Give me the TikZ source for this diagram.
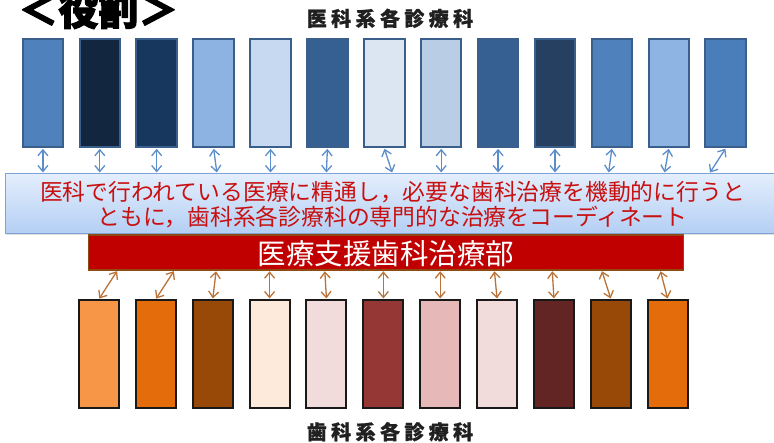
\documentclass[tikz,border=0pt]{standalone}
\usepackage{fontspec}
\newfontfamily\cjk{Noto Sans CJK JP}
\newfontfamily\cjkheavy[FakeBold=2.5]{Noto Sans CJK JP}
\newfontfamily\cjklabel[FakeBold=1,LetterSpace=22]{Noto Sans CJK JP}
\usetikzlibrary{arrows.meta,shadows,calc}
\definecolor{tc1}{HTML}{4F81BD}
\definecolor{tc2}{HTML}{12263F}
\definecolor{tc3}{HTML}{17375E}
\definecolor{tc4}{HTML}{8DB3E2}
\definecolor{tc5}{HTML}{C6D9F1}
\definecolor{tc6}{HTML}{366092}
\definecolor{tc7}{HTML}{DCE6F2}
\definecolor{tc8}{HTML}{B9CDE5}
\definecolor{tc9}{HTML}{376092}
\definecolor{tc10}{HTML}{254061}
\definecolor{tc11}{HTML}{4F81BD}
\definecolor{tc12}{HTML}{8EB4E3}
\definecolor{tc13}{HTML}{4A7EBB}
\definecolor{bc1}{HTML}{F79646}
\definecolor{bc2}{HTML}{E46C0A}
\definecolor{bc3}{HTML}{984807}
\definecolor{bc4}{HTML}{FDEADA}
\definecolor{bc5}{HTML}{F2DCDB}
\definecolor{bc6}{HTML}{953735}
\definecolor{bc7}{HTML}{E6B9B8}
\definecolor{bc8}{HTML}{F2DCDB}
\definecolor{bc9}{HTML}{632523}
\definecolor{bc10}{HTML}{984807}
\definecolor{bc11}{HTML}{E46C0A}
\definecolor{topborder}{HTML}{3A5F8B}
\definecolor{arrowblue}{HTML}{5B8DCB}
\definecolor{arrowbrown}{HTML}{BA7236}
\definecolor{bandtop}{HTML}{E4EEFC}
\definecolor{bandbottom}{HTML}{B4CFF4}
\definecolor{bandborder}{HTML}{7FA3D6}
\definecolor{deptred}{HTML}{C00000}
\definecolor{deptborder}{HTML}{8E4A10}
\definecolor{textred}{HTML}{C81010}
\definecolor{labelgray}{HTML}{202020}
\begin{document}
\begin{tikzpicture}[x=1pt,y=-1pt,
  topbox/.style={draw=topborder, line width=2pt, minimum width=40.5pt, minimum height=108pt, inner sep=0pt},
  botbox/.style={draw=black!90, line width=2pt, minimum width=40pt, minimum height=107.7pt, inner sep=0pt},
  barb/.tip={Straight Barb[length=6pt,width=10pt,line width=1.3pt]},
  barrow/.style={draw=arrowblue, line width=1.3pt, barb-barb, shorten <=0.5pt, shorten >=0.5pt},
  brarrow/.style={draw=arrowbrown, line width=1.3pt, barb-barb, shorten <=0.5pt, shorten >=0.5pt},
  bandbox/.style={draw=bandborder, line width=1pt, top color=bandtop, bottom color=bandbottom, minimum width=775pt, minimum height=59.7pt, inner sep=0pt, drop shadow={opacity=0.25, shadow xshift=1pt, shadow yshift=-2pt}},
  deptbox/.style={draw=deptborder, line width=1.5pt, fill=deptred, minimum width=595pt, minimum height=35pt, inner sep=0pt},
  grouplabel/.style={font=\cjklabel\bfseries\fontsize{20}{22}\selectfont, text=labelgray, inner sep=0pt}
]
\useasboundingbox (0,0) rectangle (774,442);

% title
\node[font=\cjkheavy\bfseries\fontsize{40}{44}\selectfont, anchor=base, inner sep=0pt] (title) at (98.3,25) {＜役割＞};

% group labels
\node[grouplabel] (toplabel) at (390,18.3) {医科系各診療科};
\node[grouplabel] (botlabel) at (390,431.7) {歯科系各診療科};

% banner
\node[bandbox] (band) at (392.5,203.3) {};
\node[font=\cjk\fontsize{22.8}{25}\selectfont, text=textred, align=center, inner sep=0pt] (bandtext) at (392.5,204.2)
  {医科で行われている医療に精通し，必要な歯科治療を機動的に行うと\\ともに，歯科系各診療科の専門的な治療をコーディネート};

% department bar
\node[deptbox] (dept) at (385.8,252.5) {};
\node[font=\cjk\fontsize{28.5}{30}\selectfont, text=white, inner sep=0pt] (depttext) at (385.8,253.3) {医療支援歯科治療部};

% top boxes
\foreach \i in {1,...,13}{
  \node[topbox, fill=tc\i] (t\i) at ({42.9+(\i-1)*56.9},93.3) {};
}
% bottom boxes
\foreach \i in {1,...,11}{
  \node[botbox, fill=bc\i] (b\i) at ({99+(\i-1)*56.87},353.8) {};
}

% top arrows: box -> band
\foreach \i/\d in {1/0,2/0,3/0,4/3.3,5/0,6/-1,7/8,8/0,9/0,10/0,11/-3.3,12/-4.3,13/-16}{
  \draw[barrow] (t\i.south) -- ([xshift=\d pt]t\i.south |- band.north);
}
% bottom arrows: dept -> box
\foreach \i/\d in {1/18.3,2/18.3,3/3.4,4/0,5/-1.7,6/0,7/0,8/-2.7,9/-1.7,10/-9,11/-7.3}{
  \draw[brarrow] ([xshift=\d pt]b\i.north |- dept.south) -- (b\i.north);
}
\end{tikzpicture}
\end{document}
